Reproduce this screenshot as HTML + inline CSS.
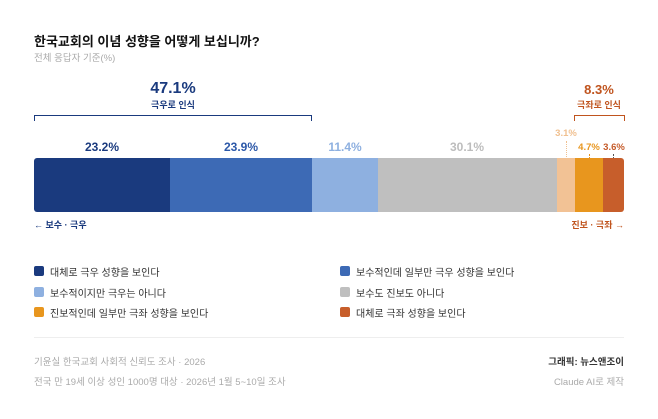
<!DOCTYPE html>
<html><head><meta charset="utf-8"><style>
body{margin:0;width:658px;height:419px;background:#fff;font-family:"Liberation Sans","Noto Sans CJK KR",sans-serif;position:relative;overflow:hidden}
div{position:absolute;white-space:nowrap}
.c{transform:translateX(-50%)}
.sq{width:10px;height:10px;border-radius:2px}
.lg{font-size:10px;color:#333}
</style></head><body>
<div style="left:34px;top:31px;font-size:13px;font-weight:bold;color:#111">한국교회의 이념 성향을 어떻게 보십니까?</div>
<div style="left:34px;top:50px;font-size:9.5px;color:#aaa">전체 응답자 기준(%)</div>

<div class="c" style="left:173px;top:80px;font-size:16px;font-weight:bold;color:#1a3a7e">47.1%</div>
<div class="c" style="left:173px;top:98px;font-size:9px;font-weight:bold;color:#1a3a7e">극우로 인식</div>
<div style="left:34px;top:115px;width:276px;height:5px;border:1px solid #1a3a7e;border-bottom:none"></div>

<div class="c" style="left:599px;top:82px;font-size:13px;font-weight:bold;color:#c0541e">8.3%</div>
<div class="c" style="left:599px;top:98px;font-size:9px;font-weight:bold;color:#c0541e">극좌로 인식</div>
<div style="left:574px;top:115px;width:49px;height:5px;border:1px solid #c0541e;border-bottom:none"></div>

<div class="c" style="left:102px;top:140px;font-size:12px;font-weight:bold;color:#1a3a7e">23.2%</div>
<div class="c" style="left:241px;top:140px;font-size:12px;font-weight:bold;color:#2c58a8">23.9%</div>
<div class="c" style="left:345px;top:140px;font-size:12px;font-weight:bold;color:#8eb0e0">11.4%</div>
<div class="c" style="left:467px;top:140px;font-size:12px;font-weight:bold;color:#bdbdbd">30.1%</div>
<div class="c" style="left:566px;top:128px;font-size:9.5px;font-weight:bold;color:#f0c090">3.1%</div>
<div style="left:566px;top:141px;height:16px;border-left:1px dotted #f0c090"></div>
<div class="c" style="left:589px;top:142px;font-size:9.5px;font-weight:bold;color:#e8961e">4.7%</div>
<div style="left:589px;top:154px;height:4px;border-left:1px dotted #e8961e"></div>
<div class="c" style="left:614px;top:142px;font-size:9.5px;font-weight:bold;color:#c55a28">3.6%</div>
<div style="left:613px;top:154px;height:4px;border-left:1px dotted #555"></div>

<div style="left:34px;top:158px;width:136px;height:54px;background:#1a3a7e;border-radius:3px 0 0 3px"></div>
<div style="left:170px;top:158px;width:142px;height:54px;background:#3d6ab5"></div>
<div style="left:312px;top:158px;width:66px;height:54px;background:#8eb0e0"></div>
<div style="left:378px;top:158px;width:179px;height:54px;background:#bfbfbf"></div>
<div style="left:557px;top:158px;width:18px;height:54px;background:#f2c295"></div>
<div style="left:575px;top:158px;width:28px;height:54px;background:#e8961e"></div>
<div style="left:603px;top:158px;width:21px;height:54px;background:#c75e2b;border-radius:0 3px 3px 0"></div>

<div style="left:34px;top:218px;font-size:9px;font-weight:bold;color:#1a3a7e">← 보수 · 극우</div>
<div style="right:34px;top:218px;font-size:9px;font-weight:bold;color:#c0541e">진보 · 극좌 →</div>

<div class="sq" style="left:34px;top:266px;background:#1a3a7e"></div><div class="lg" style="left:50px;top:264px">대체로 극우 성향을 보인다</div>
<div class="sq" style="left:340px;top:266px;background:#3d6ab5"></div><div class="lg" style="left:356px;top:264px">보수적인데 일부만 극우 성향을 보인다</div>
<div class="sq" style="left:34px;top:287px;background:#8eb0e0"></div><div class="lg" style="left:50px;top:285px">보수적이지만 극우는 아니다</div>
<div class="sq" style="left:340px;top:287px;background:#bfbfbf"></div><div class="lg" style="left:356px;top:285px">보수도 진보도 아니다</div>
<div class="sq" style="left:34px;top:307px;background:#e8961e"></div><div class="lg" style="left:50px;top:305px">진보적인데 일부만 극좌 성향을 보인다</div>
<div class="sq" style="left:340px;top:307px;background:#c75e2b"></div><div class="lg" style="left:356px;top:305px">대체로 극좌 성향을 보인다</div>

<div style="left:34px;top:337px;width:590px;height:1px;background:#eee"></div>
<div style="left:34px;top:354px;font-size:9.5px;color:#aaa">기윤실 한국교회 사회적 신뢰도 조사 · 2026</div>
<div style="left:34px;top:374px;font-size:9.5px;color:#aaa">전국 만 19세 이상 성인 1000명 대상 · 2026년 1월 5~10일 조사</div>
<div style="right:34px;top:354px;font-size:9.5px;font-weight:bold;color:#333">그래픽: 뉴스앤조이</div>
<div style="right:34px;top:374px;font-size:9.5px;color:#aaa">Claude AI로 제작</div>
</body></html>
